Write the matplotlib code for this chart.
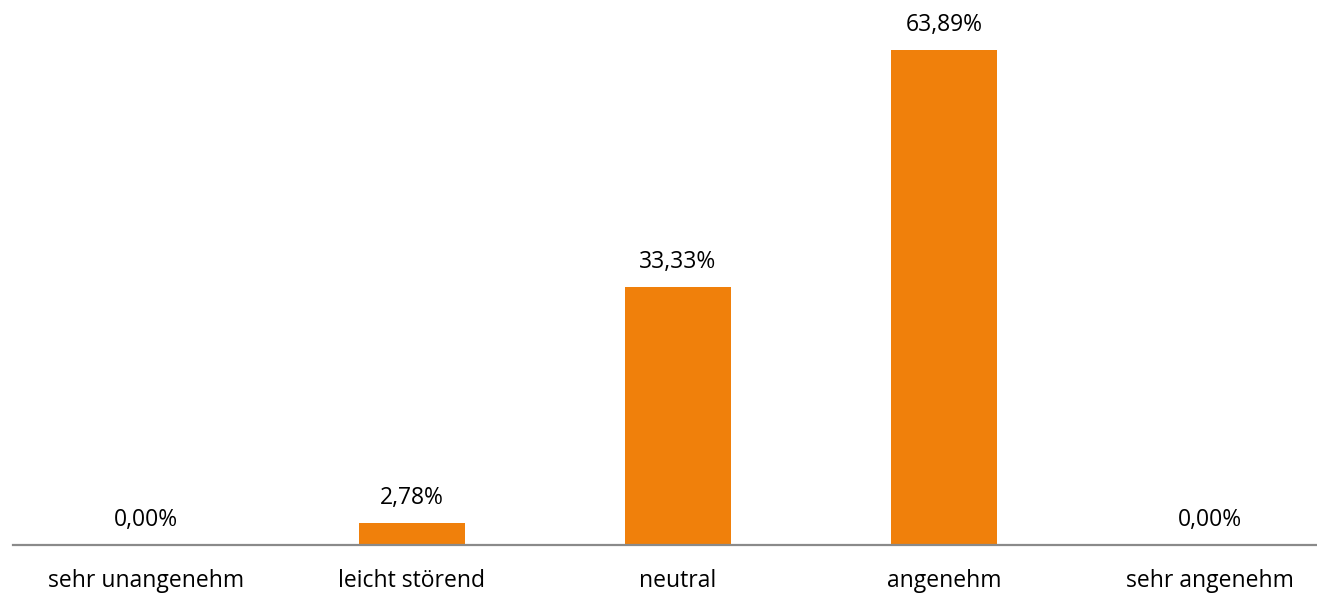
import matplotlib.pyplot as plt

# Antworten auf die Frage nach dem Empfinden (Anteil in %)
categories = ["sehr unangenehm", "leicht störend", "neutral", "angenehm", "sehr angenehm"]
shares = [0.00, 2.78, 33.33, 63.89, 0.00]

plt.rcParams['font.family'] = ['Open Sans', 'DejaVu Sans']

fig = plt.figure(figsize=(13.17, 5.93), dpi=100)
# the plot area runs a bit past the right edge of the picture
ax = fig.add_axes([13 / 1317, 48 / 593, 1330 / 1317, 545 / 593])

x = range(len(categories))
ax.bar(x, shares, width=0.4, color="#F0800B")

for xi, v in zip(x, shares):
    ax.annotate(f"{v:.2f}%".replace(".", ","), (xi, v), xytext=(0, 25),
                textcoords="offset pixels", ha="center", va="center",
                fontsize=16.5, color="black")

ax.set_xlim(-0.5, len(categories) - 0.5)
ax.set_ylim(0, 545 / 7.75)
ax.set_xticks(list(x))
ax.set_xticklabels(categories, fontsize=16.5, color="black")
ax.tick_params(axis="x", length=0, pad=17)
ax.set_yticks([])

for side in ["top", "right", "left"]:
    ax.spines[side].set_visible(False)
ax.spines["bottom"].set_color("#8a8a8a")
ax.spines["bottom"].set_linewidth(1.6)

fig.savefig("out.png", dpi=100)
